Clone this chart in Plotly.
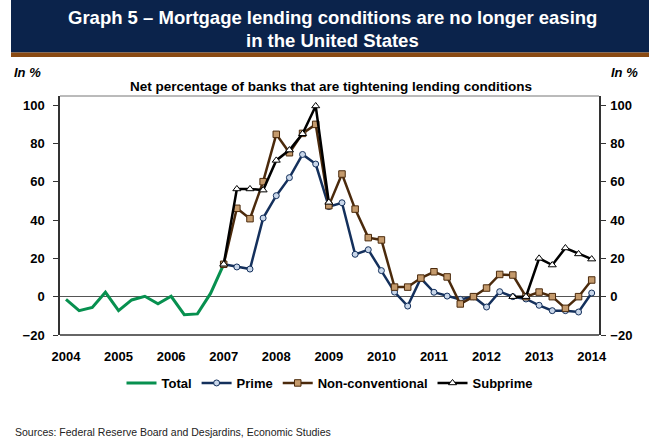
import plotly.graph_objects as go

# Quarterly survey results (net % of banks tightening mortgage standards)
total_x = [2004.0, 2004.25, 2004.5, 2004.75, 2005.0, 2005.25, 2005.5, 2005.75,
           2006.0, 2006.25, 2006.5, 2006.75, 2007.0]
total = [-1.4, -7.3, -5.6, 2.3, -7.3, -1.7, 0.2, -3.7, 0.2, -9.4, -9.0, 1.7, 16.9]

seg_x = [2007.0 + 0.25 * i for i in range(29)]
prime = [16.9, 15.5, 14.4, 41.0, 52.7, 62.1, 74.2, 69.2, 47.0, 49.0, 22.1, 24.5,
         13.6, 2.4, -4.9, 9.6, 2.3, 0.3, -1.4, 0.0, -5.4, 2.6, 0.0, -1.2,
         -4.5, -7.3, -7.3, -8.0, 1.9]
nonconv = [16.9, 46.1, 40.7, 60.0, 84.7, 75.1, 85.2, 89.9, 47.5, 64.0, 45.7, 30.8,
           29.6, 5.0, 5.0, 9.7, 13.0, 10.3, -3.8, 0.0, 4.5, 11.6, 11.3, 0.0,
           2.4, 0.0, -6.1, 0.0, 8.7]
subprime = [16.9, 56.2, 56.2, 55.6, 71.1, 76.5, 85.0, 99.5, 49.2, None, None, None,
            None, None, None, None, None, None, None, None, None, None, 0.0, 0.0,
            20.0, 16.5, 25.4, 22.3, 19.6]

year_ticks = list(range(2004, 2015))
y_ticks = [-20, 0, 20, 40, 60, 80, 100]

W, H = 649, 438
L, R, T, B = 60, 50, 96, 103
PW, PH = W - L - R, H - T - B


def px(x):
    return (x - L) / PW


def py(y):
    return (H - B - y) / PH


FONT = "Arial, Liberation Sans, sans-serif"
GREEN = "#07904f"
NAVY = "#14305c"
BROWN = "#4b2a0c"
TICKFONT = dict(size=13, weight="bold")

fig = go.Figure()
fig.add_trace(go.Scatter(x=total_x, y=total, name="Total", mode="lines",
                         line=dict(color=GREEN, width=3)))
fig.add_trace(go.Scatter(x=seg_x, y=prime, name="Prime", mode="lines+markers",
                         line=dict(color=NAVY, width=2.5),
                         marker=dict(symbol="circle", size=6, color="#c9d7ea",
                                     line=dict(color=NAVY, width=1))))
fig.add_trace(go.Scatter(x=seg_x, y=nonconv, name="Non-conventional", mode="lines+markers",
                         line=dict(color=BROWN, width=2.5),
                         marker=dict(symbol="square", size=6.5, color="#c49a6c",
                                     line=dict(color=BROWN, width=1))))
fig.add_trace(go.Scatter(x=seg_x, y=subprime, name="Subprime", mode="lines+markers",
                         line=dict(color="black", width=2.5),
                         marker=dict(symbol="triangle-up", size=7, color="white",
                                     line=dict(color="black", width=1))))
# invisible trace to carry the right-hand axis
fig.add_trace(go.Scatter(x=[2004], y=[0], yaxis="y2", showlegend=False,
                         mode="markers", marker=dict(opacity=0), hoverinfo="skip"))

YR = [-20, 104.7]
fig.update_layout(
    width=W, height=H,
    margin=dict(l=L, r=R, t=T, b=B),
    paper_bgcolor="white", plot_bgcolor="white",
    font=dict(family=FONT, size=12, color="black"),
    xaxis=dict(range=[2003.886, 2014.139], tickvals=year_ticks,
               ticktext=[str(y) for y in year_ticks], showgrid=False,
               zeroline=False, showline=False, ticks="",
               tickfont=TICKFONT, ticklabelstandoff=12),
    yaxis=dict(range=YR, tickvals=y_ticks, showgrid=False, zeroline=True,
               zerolinecolor="#555555", zerolinewidth=1.2,
               showline=True, linecolor="#333333", linewidth=1.5,
               ticks="outside", ticklen=5, tickcolor="#333333",
               tickfont=TICKFONT, ticklabelstandoff=6),
    yaxis2=dict(range=YR, tickvals=y_ticks, overlaying="y", side="right",
                showgrid=False, zeroline=False, showline=True,
                linecolor="#333333", linewidth=1.5, ticks="outside", ticklen=5,
                tickcolor="#333333", tickfont=TICKFONT, ticklabelstandoff=2),
    legend=dict(orientation="h", x=0.5, xanchor="center", y=py(383), yanchor="middle",
                font=dict(size=13, weight="bold"), itemwidth=30,
                tracegroupgap=0, bgcolor="rgba(0,0,0,0)"),
    showlegend=True,
)

shapes = [
    # title banner and its underline
    dict(type="rect", xref="paper", yref="paper", x0=px(11), x1=px(649),
         y0=py(52.5), y1=py(0), fillcolor="#0b234b", line=dict(width=0), layer="above"),
    dict(type="rect", xref="paper", yref="paper", x0=px(11), x1=px(649),
         y0=py(57), y1=py(52.5), fillcolor="#8a4a12", line=dict(width=0), layer="above"),
    # plot frame: top and bottom edges
    dict(type="line", xref="paper", yref="paper", x0=0, x1=1, y0=1, y1=1,
         line=dict(color="#777777", width=1)),
    dict(type="line", xref="paper", yref="paper", x0=0, x1=1, y0=0, y1=0,
         line=dict(color="#333333", width=1.5)),
]
fig.update_layout(shapes=shapes)

ann = [
    dict(text="Graph 5 – Mortgage lending conditions are no longer easing",
         x=px(332), y=py(18), font=dict(size=18.5, color="white", weight="bold")),
    dict(text="in the United States",
         x=px(332), y=py(40), font=dict(size=18.5, color="white", weight="bold")),
    dict(text="<i>In %</i>", x=px(12), y=py(73), xanchor="left",
         font=dict(size=13, weight="bold")),
    dict(text="<i>In %</i>", x=px(609), y=py(73), xanchor="left",
         font=dict(size=13, weight="bold")),
    dict(text="Net percentage of banks that are tightening lending conditions",
         x=px(331), y=py(87), font=dict(size=13.5, weight="bold")),
    dict(text="Sources: Federal Reserve Board and Desjardins, Economic Studies",
         x=px(13), y=py(432), xanchor="left", font=dict(size=10.5, color="#222222")),
]
for a in ann:
    a.setdefault("xanchor", "center")
    a.update(xref="paper", yref="paper", yanchor="middle", showarrow=False)
fig.update_layout(annotations=ann)

fig.write_html("out.html")
